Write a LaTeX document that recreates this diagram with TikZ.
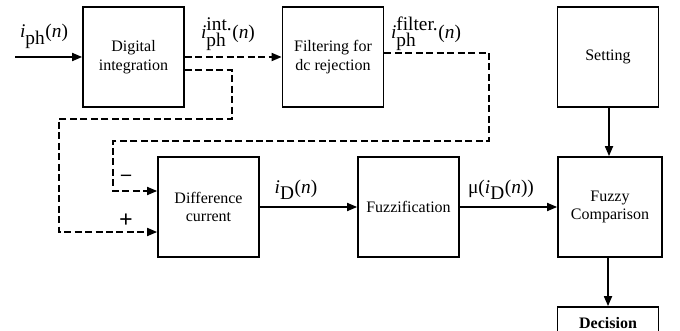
\documentclass[tikz,border=0pt]{standalone}
\usepackage{fontspec}
\setmainfont{Liberation Serif}
\usetikzlibrary{arrows.meta}
\newcommand\vi{\textit{i}}
\newcommand\vn{\textrm{(}\textit{n}\textrm{)}}
\begin{document}
\begin{tikzpicture}[x=0.75pt,y=-0.75pt,
  blk/.style={draw,line width=1.3pt,minimum width=75.75pt,minimum height=75pt,inner sep=1pt,align=center,font=\fontsize{12}{14}\selectfont},
  conn/.style={line width=1.3pt,-{Triangle[length=7.5pt,width=6pt]}},
  dconn/.style={conn,dash pattern=on 5.25pt off 2.6pt},
  lbl/.style={inner sep=0pt,font=\fontsize{14.5}{16}\selectfont},
  sgn/.style={inner sep=0pt,font=\fontsize{18}{18}\selectfont\bfseries}]
\clip (0,0) rectangle (680,331);
\fill[white] (0,0) rectangle (680,331);
\node[blk] (dig) at (133.5,57) {Digital\\integration};
\node[blk] (filt) at (333,57) {Filtering for\\dc rejection};
\node[blk] (set) at (608,57) {Setting};
\node[blk] (diff) at (208.5,207) {Difference\\current};
\node[blk] (fuzz) at (408.5,207) {Fuzzification};
\node[blk,minimum width=78pt] (fc) at (610,207) {Fuzzy\\Comparison};
\node[blk,minimum height=24pt] (dec) at (608,323) {\textbf{Decision}};
\coordinate (in) at (15,57);
\draw[conn] (in) -- (dig.west);
\draw[dconn] (dig.east) -- (filt.west);
\draw[dconn] ([yshift=-9.75pt]dig.east) -| (232,119) -| (59,232) -- ([yshift=-18.75pt]diff.west);
\draw[dconn] ([yshift=3pt]filt.east) -| (489,141) -| (113,191) -- ([yshift=12pt]diff.west);
\draw[conn] (diff.east) -- (fuzz.west);
\draw[conn] (fuzz.east) -- (fc.west);
\draw[conn] ([xshift=0.75pt]set.south) -- ([xshift=-0.75pt]fc.north);
\draw[conn] ([xshift=-1.5pt]fc.south) -- (dec.north);
\node[lbl] (l1) at (44,36) {$\vi_{\textrm{ph}}\vn$};
\node[lbl] (l2) at (228,34) {$\vi^{\textrm{int.}}_{\textrm{ph}}\vn$};
\node[lbl] (l3) at (426,34) {$\vi^{\textrm{filter.}}_{\textrm{ph}}\vn$};
\node[lbl] (l4) at (296,190) {$\vi_{\textrm{D}}\vn$};
\node[lbl] (l5) at (501,190) {\textrm{μ(}$\vi_{\textrm{D}}\vn$\textrm{)}};
\node[sgn,font=\fontsize{15}{16}\selectfont\bfseries] (m) at (126,178) {\textendash};
\node[sgn] (p) at (126,221) {+};
\end{tikzpicture}
\end{document}
